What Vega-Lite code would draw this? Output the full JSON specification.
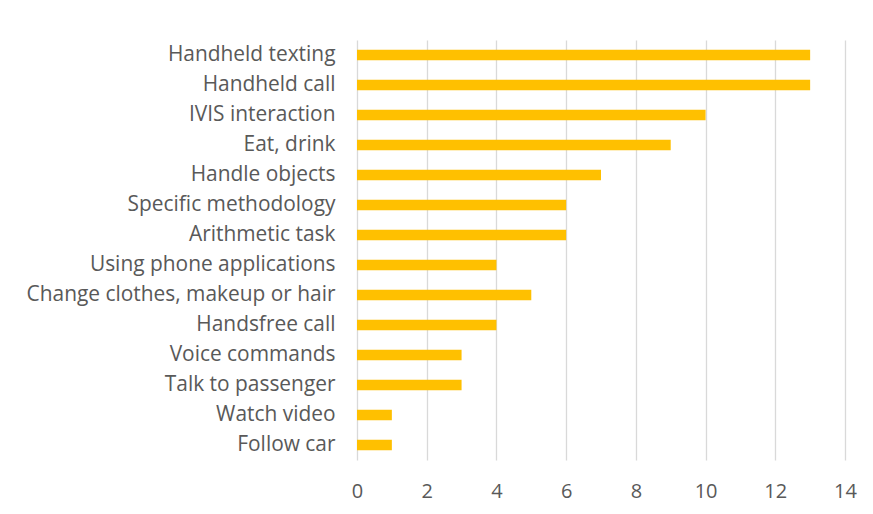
{
  "$schema": "https://vega.github.io/schema/vega-lite/v6.json",
  "width": 488,
  "height": 420,
  "autosize": {"type": "none"},
  "padding": {"left": 357, "top": 40, "right": 28, "bottom": 54},
  "background": "white",
  "config": {"view": {"stroke": null}, "font": "Open Sans"},
  "data": {"values": [
    {"activity": "Handheld texting", "count": 13},
    {"activity": "Handheld call", "count": 13},
    {"activity": "IVIS interaction", "count": 10},
    {"activity": "Eat, drink", "count": 9},
    {"activity": "Handle objects", "count": 7},
    {"activity": "Specific methodology", "count": 6},
    {"activity": "Arithmetic task", "count": 6},
    {"activity": "Using phone applications", "count": 4},
    {"activity": "Change clothes, makeup or hair", "count": 5},
    {"activity": "Handsfree call", "count": 4},
    {"activity": "Voice commands", "count": 3},
    {"activity": "Talk to passenger", "count": 3},
    {"activity": "Watch video", "count": 1},
    {"activity": "Follow car", "count": 1}
  ]},
  "mark": {"type": "bar", "color": "#FFC000"},
  "encoding": {
    "y": {
      "field": "activity", "type": "nominal", "sort": null,
      "scale": {"paddingInner": 0.65, "paddingOuter": 0.325},
      "axis": {"title": null, "domain": false, "ticks": false, "grid": false,
               "labelFont": "Open Sans", "labelFontSize": 20.9, "labelColor": "#595959",
               "labelPadding": 22, "labelLimit": 400}
    },
    "x": {
      "field": "count", "type": "quantitative",
      "scale": {"domain": [0, 14], "nice": false},
      "axis": {"title": null, "domain": false, "ticks": false, "values": [0,2,4,6,8,10,12,14],
               "gridColor": "#D9D9D9", "gridWidth": 1.3,
               "labelFont": "Open Sans", "labelFontSize": 20, "labelColor": "#595959",
               "labelPadding": 21, "labelFlush": false}
    }
  }
}
